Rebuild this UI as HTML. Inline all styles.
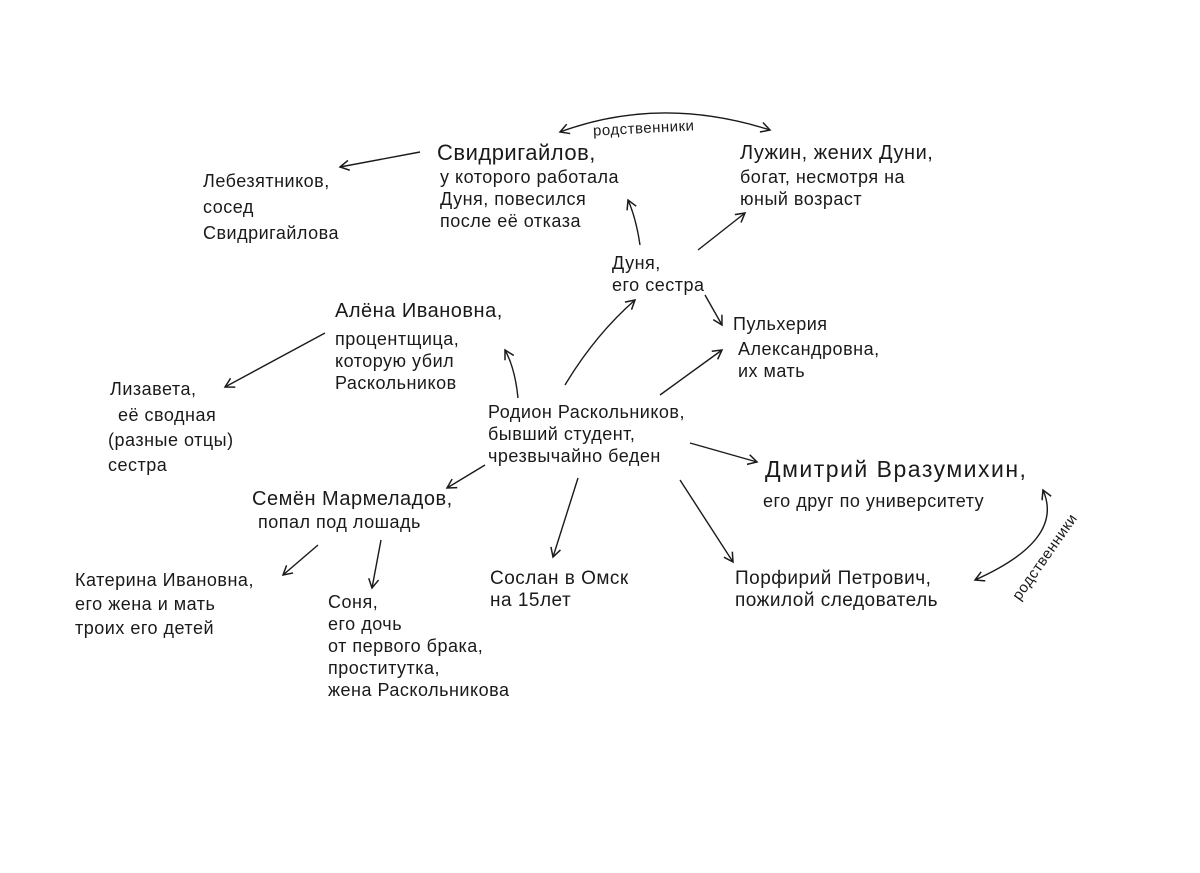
<!DOCTYPE html>
<html><head><meta charset="utf-8"><style>
html,body{margin:0;padding:0;background:#fff;}
#c{position:relative;width:1200px;height:873px;overflow:hidden;background:#fff;font-family:"Liberation Sans","DejaVu Sans",sans-serif;color:#1a1a1a;}
.t{position:absolute;font-size:18px;line-height:22px;white-space:nowrap;letter-spacing:0.5px;}
svg{position:absolute;left:0;top:0;}
</style></head><body><div id="c">
<svg width="1200" height="873" viewBox="0 0 1200 873">
<defs><marker id="a" markerWidth="12" markerHeight="12" refX="10" refY="6" orient="auto" markerUnits="userSpaceOnUse"><path d="M1,1 L10,6 L1,11" fill="none" stroke="#1a1a1a" stroke-width="1.5"/></marker>
<marker id="s" markerWidth="12" markerHeight="12" refX="2" refY="6" orient="auto" markerUnits="userSpaceOnUse"><path d="M11,1 L2,6 L11,11" fill="none" stroke="#1a1a1a" stroke-width="1.5"/></marker></defs>
<g stroke="#1a1a1a" stroke-width="1.4" fill="none" marker-end="url(#a)">
<path d="M420,152 L340,167"/>
<path d="M640,245 Q636,218 628,200"/>
<path d="M698,250 L745,213"/>
<path d="M705,295 L722,325"/>
<path d="M565,385 Q595,335 635,300"/>
<path d="M660,395 L722,350"/>
<path d="M518,398 Q515,368 505,350"/>
<path d="M325,333 L225,387"/>
<path d="M690,443 L757,462"/>
<path d="M485,465 L447,488"/>
<path d="M578,478 L553,557"/>
<path d="M680,480 L733,562"/>
<path d="M318,545 L283,575"/>
<path d="M381,540 L372,588"/>
<path d="M560,132 Q660,95 770,130" marker-start="url(#s)"/>
<path d="M1043,490 Q1065,540 975,580" marker-start="url(#s)"/>
</g></svg>
<div class="t" style="left:593px;top:118px;font-size:15px;transform:rotate(-3deg)">родственники</div>
<div class="t" style="left:995px;top:547px;width:100px;font-size:15px;transform:rotate(-55deg);transform-origin:center">родственники</div>
<div class="t" style="left:437px;top:140px;font-size:22px;line-height:26px">Свидригайлов,</div>
<div class="t" style="left:440px;top:166px">у которого работала<br>Дуня, повесился<br>после её отказа</div>
<div class="t" style="left:203px;top:168px;line-height:26px">Лебезятников,<br>сосед<br>Свидригайлова</div>
<div class="t" style="left:740px;top:142px;font-size:20px">Лужин, жених Дуни,</div>
<div class="t" style="left:740px;top:166px">богат, несмотря на<br>юный возраст</div>
<div class="t" style="left:612px;top:252px">Дуня,<br>его сестра</div>
<div class="t" style="left:335px;top:300px;font-size:20px">Алёна Ивановна,</div>
<div class="t" style="left:335px;top:328px">процентщица,<br>которую убил<br>Раскольников</div>
<div class="t" style="left:733px;top:313px">Пульхерия</div>
<div class="t" style="left:738px;top:338px">Александровна,<br>их мать</div>
<div class="t" style="left:110px;top:378px">Лизавета,</div>
<div class="t" style="left:118px;top:403px;line-height:25px">её сводная</div>
<div class="t" style="left:108px;top:428px;line-height:25px">(разные отцы)<br>сестра</div>
<div class="t" style="left:488px;top:401px">Родион Раскольников,<br>бывший студент,<br>чрезвычайно беден</div>
<div class="t" style="left:765px;top:458px;font-size:23px;letter-spacing:1.5px">Дмитрий Вразумихин,</div>
<div class="t" style="left:763px;top:490px">его друг по университету</div>
<div class="t" style="left:252px;top:488px;font-size:20px">Семён Мармеладов,</div>
<div class="t" style="left:258px;top:511px">попал под лошадь</div>
<div class="t" style="left:75px;top:568px;line-height:24px">Катерина Ивановна,<br>его жена и мать<br>троих его детей</div>
<div class="t" style="left:328px;top:591px">Соня,<br>его дочь<br>от первого брака,<br>проститутка,<br>жена Раскольникова</div>
<div class="t" style="left:490px;top:568px;font-size:19px">Сослан в Омск<br>на 15лет</div>
<div class="t" style="left:735px;top:568px;font-size:19px">Порфирий Петрович,<br>пожилой следователь</div>
</div></body></html>
